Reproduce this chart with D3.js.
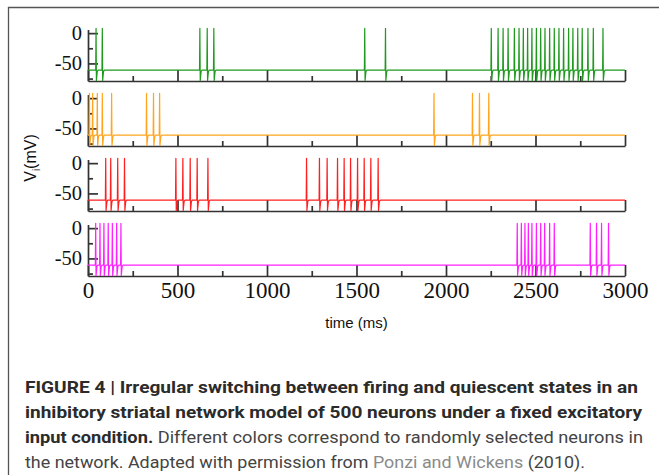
<!DOCTYPE html>
<html>
<head>
<meta charset="utf-8">
<script src="https://cdn.jsdelivr.net/npm/d3@7"></script>
<style>
  body { margin: 0; background: #fff; }
  .axis path, .axis line { stroke: #333; stroke-width: 1.7; }
  .axis text { fill: #111; font-family: "Liberation Serif", "Times New Roman", serif; }
</style>
</head>
<body>
<div id="chart"></div>
<script>
// Data (spike times in ms)
const timeTicks = [0, 500, 1000, 1500, 2000, 2500, 3000];
const timeMinorTicks = [250, 750, 1250, 1750, 2250, 2750];
const voltTicks = [0, -50];
const voltMinorTicks = [-25, -75];

const spikesGreen = [45, 80, 625, 666, 703, 1546, 1662,
  2253, 2291, 2319, 2347, 2382, 2408, 2432, 2456, 2480, 2505, 2529, 2553,
  2579, 2605, 2631, 2657, 2685, 2709, 2736, 2761, 2793, 2823, 2877];
const spikesOrange = [8, 26, 52, 80, 132, 327, 366, 400, 1933, 2148, 2187, 2239];
const spikesRed = [99, 127, 166, 204, 491, 530, 571, 610, 670,
  1221, 1293, 1336, 1394, 1431, 1467, 1506, 1543, 1580, 1621];
const spikesMagenta = [43, 67, 89, 113, 136, 160, 184,
  2398, 2421, 2441, 2460, 2480, 2505, 2529, 2551, 2579, 2605,
  2806, 2841, 2869, 2908];

// membrane levels (mV)
const restV = -61;
const peakV = 8;
const troughV = -78;

const captionLines = [
  [["FIGURE 4 | Irregular switching between firing and quiescent states in an", "b"]],
  [["inhibitory striatal network model of 500 neurons under a fixed excitatory", "b"]],
  [["input condition.", "b"], [" Different colors correspond to randomly selected neurons in", "r"]],
  [["the network. Adapted with permission from ", "r"], ["Ponzi and Wickens", "l"], [" (2010).", "r"]],
];

// Styles
const traces = [spikesGreen, spikesOrange, spikesRed, spikesMagenta];
const traceColors = ["#1f9a1f", "#ffa51f", "#ff1f1f", "#ff1fff"];
const captionWidths = [613, 617, 618, 560];

// Dimensions
let dimensions = {
  width: 659,
  height: 475,
  left: 88,
  plotWidth: 537,
  firstTop: 29.5,
  panelHeight: 51.5,
  panelStep: 65,
};

const svg = d3
  .select("#chart")
  .append("svg")
  .attr("width", dimensions.width)
  .attr("height", dimensions.height);

// figure frame (left + top edges)
svg.append("path")
  .attr("d", `M8.5,${dimensions.height}V7.5H${dimensions.width}`)
  .attr("fill", "none")
  .attr("stroke", "#555")
  .attr("stroke-width", 1.3);

// Scales
const xScale = d3.scaleLinear().domain([0, 3000]).range([0, dimensions.plotWidth]);
const yScale = d3.scaleLinear().domain([-79, 6]).range([dimensions.panelHeight, 0]);

const line = d3.line()
  .x((d) => xScale(d[0]))
  .y((d) => yScale(d[1]));

// voltage trace: resting level with a spike + undershoot at each spike time
function buildTrace(spikes) {
  const pts = [[0, restV]];
  spikes.forEach((t) => {
    pts.push([t - 2, restV], [t, peakV], [t + 2, troughV], [t + 7, restV - 2], [t + 12, restV]);
  });
  pts.push([3000, restV]);
  return pts;
}

const noLabel = () => "";

traces.forEach((spikes, i) => {
  const panel = svg.append("g")
    .attr("transform", `translate(${dimensions.left}, ${dimensions.firstTop + i * dimensions.panelStep})`);

  // x axis (ticks point inward)
  const isLast = i === traces.length - 1;
  panel.append("g")
    .classed("axis", true)
    .attr("transform", `translate(0, ${dimensions.panelHeight})`)
    .call(d3.axisBottom(xScale)
      .tickValues(timeTicks)
      .tickSize(-11)
      .tickSizeOuter(0)
      .tickPadding(6)
      .tickFormat(isLast ? d3.format("d") : noLabel))
    .call((g) => g.selectAll("text").style("font-size", "23px"));

  panel.append("g")
    .classed("axis", true)
    .attr("transform", `translate(0, ${dimensions.panelHeight})`)
    .call(d3.axisBottom(xScale).tickValues(timeMinorTicks).tickSize(-5).tickFormat(noLabel))
    .call((g) => g.select(".domain").remove());

  // y axis
  panel.append("g")
    .classed("axis", true)
    .call(d3.axisLeft(yScale)
      .tickValues(voltTicks)
      .tickSize(-10)
      .tickSizeOuter(0)
      .tickPadding(6)
      .tickFormat((d) => (d < 0 ? "-" + Math.abs(d) : String(d))))
    .call((g) => g.selectAll("text").style("font-size", "20.5px"));

  panel.append("g")
    .classed("axis", true)
    .call(d3.axisLeft(yScale).tickValues(voltMinorTicks).tickSize(-5).tickFormat(noLabel))
    .call((g) => g.select(".domain").remove());

  // trace
  panel.append("path")
    .datum(buildTrace(spikes))
    .attr("d", line)
    .attr("fill", "none")
    .attr("stroke", traceColors[i])
    .attr("stroke-width", 1.2)
    .attr("stroke-linejoin", "round");
});

// axis titles
const yTitle = svg.append("text")
  .attr("transform", "translate(36, 158) rotate(-90)")
  .attr("text-anchor", "middle")
  .style("font-family", "'Liberation Sans', Arial, sans-serif")
  .style("font-size", "16px")
  .attr("fill", "#111");
yTitle.append("tspan").text("V");
yTitle.append("tspan").attr("dy", 4).style("font-size", "10px").text("i");
yTitle.append("tspan").attr("dy", -4).text("(mV)");

svg.append("text")
  .attr("x", dimensions.left + dimensions.plotWidth / 2)
  .attr("y", 328)
  .attr("text-anchor", "middle")
  .style("font-family", "'Liberation Sans', Arial, sans-serif")
  .style("font-size", "15px")
  .attr("fill", "#111")
  .text("time (ms)");

// caption
const segStyle = {
  b: { weight: 700, color: "#2b2b2b" },
  r: { weight: 400, color: "#444" },
  l: { weight: 400, color: "#8a8a8a" },
};
captionLines.forEach((segs, i) => {
  const t = svg.append("text")
    .attr("x", 25)
    .attr("y", 393 + i * 25)
    .attr("textLength", captionWidths[i])
    .attr("lengthAdjust", "spacingAndGlyphs")
    .style("font-family", "Roboto, 'Liberation Sans', sans-serif")
    .style("font-size", "17px");
  segs.forEach(([text, kind]) => {
    t.append("tspan")
      .attr("font-weight", segStyle[kind].weight)
      .attr("fill", segStyle[kind].color)
      .text(text);
  });
});
</script>
</body>
</html>
